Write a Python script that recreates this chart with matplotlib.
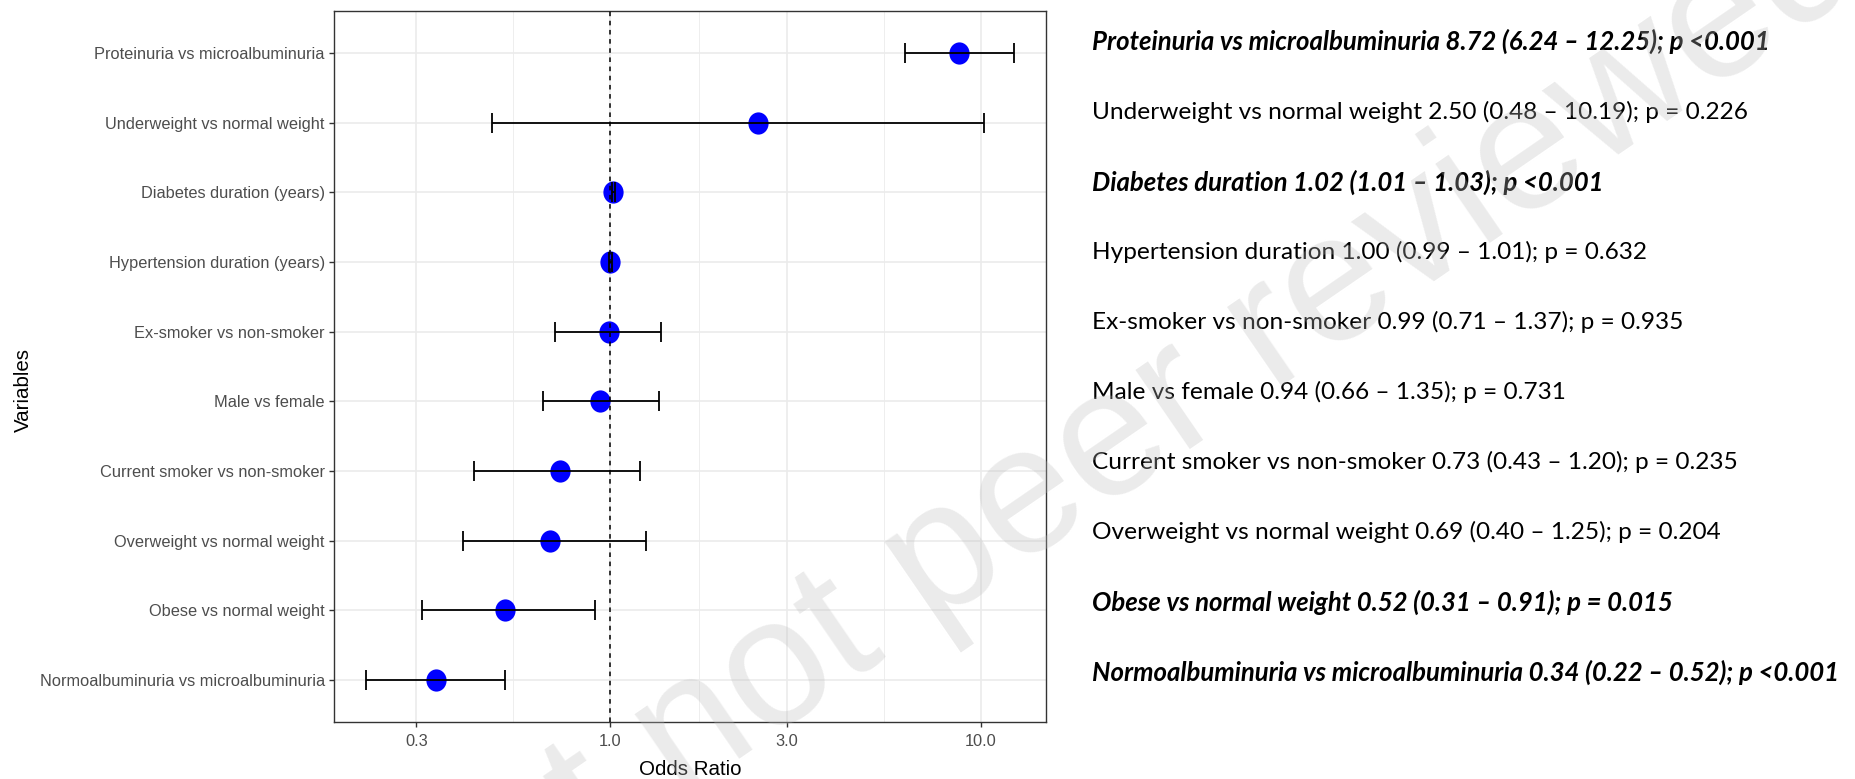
import numpy as np
import matplotlib.pyplot as plt
from matplotlib.ticker import NullFormatter
from matplotlib.path import Path
from matplotlib.transforms import Affine2D

# odds ratios with 95% CI, listed top to bottom
variables = ["Proteinuria vs microalbuminuria", "Underweight vs normal weight",
             "Diabetes duration (years)", "Hypertension duration (years)",
             "Ex-smoker vs non-smoker", "Male vs female",
             "Current smoker vs non-smoker", "Overweight vs normal weight",
             "Obese vs normal weight", "Normoalbuminuria vs microalbuminuria"]
short_names = ["Proteinuria vs microalbuminuria", "Underweight vs normal weight",
               "Diabetes duration", "Hypertension duration",
               "Ex-smoker vs non-smoker", "Male vs female",
               "Current smoker vs non-smoker", "Overweight vs normal weight",
               "Obese vs normal weight", "Normoalbuminuria vs microalbuminuria"]
odds = [8.72, 2.50, 1.02, 1.00, 0.99, 0.94, 0.73, 0.69, 0.52, 0.34]
lower = [6.24, 0.48, 1.01, 0.99, 0.71, 0.66, 0.43, 0.40, 0.31, 0.22]
upper = [12.25, 10.19, 1.03, 1.01, 1.37, 1.35, 1.20, 1.25, 0.91, 0.52]
pvals = ["p <0.001", "p = 0.226", "p <0.001", "p = 0.632", "p = 0.935",
         "p = 0.731", "p = 0.235", "p = 0.204", "p = 0.015", "p <0.001"]
significant = [True, False, True, False, False, False, False, False, True, True]

xbreaks = [0.3, 1.0, 3.0, 10.0]
xbreak_labels = ["0.3", "1.0", "3.0", "10.0"]

W, H = 1856, 779
fig = plt.figure(figsize=(W / 100, H / 100), dpi=100)
ax = fig.add_axes([334 / W, 1 - 722 / H, (1046 - 334) / W, (722 - 11) / H])

n = len(variables)
ypos = np.arange(n, 0, -1)
odds_a = np.array(odds)
lo_a = np.array(lower)
hi_a = np.array(upper)

# slightly tall dot marker
dot = Path.unit_circle().transformed(Affine2D().scale(0.91, 1.0))
ax.scatter(odds_a, ypos, s=16 ** 2, marker=dot, color="#0000FF", zorder=3,
           linewidths=0)
ax.errorbar(odds_a, ypos, xerr=[odds_a - lo_a, hi_a - odds_a], fmt="none",
            ecolor="black", elinewidth=1.3, capsize=7.5, capthick=1.3, zorder=4)
ax.axvline(1.0, color="black", lw=1.1, dashes=(3.0, 3.0), zorder=5)

ax.set_xscale("log")
llo, lhi = np.log10(min(lower)), np.log10(max(upper))
pad = 0.05 * (lhi - llo)
ax.set_xlim(10 ** (llo - pad), 10 ** (lhi + pad))
ax.set_ylim(0.4, n + 0.6)

lb = np.log10(xbreaks)
minor = 10 ** ((lb[:-1] + lb[1:]) / 2)
ax.set_xticks(xbreaks)
ax.set_xticklabels(xbreak_labels)
ax.set_xticks(minor, minor=True)
ax.xaxis.set_minor_formatter(NullFormatter())
ax.set_yticks(ypos)
ax.set_yticklabels(variables)

ax.grid(True, which="major", color="#EBEBEB", lw=1.2, zorder=0)
ax.grid(True, which="minor", axis="x", color="#EBEBEB", lw=0.6, zorder=0)
ax.set_axisbelow(True)

for s in ax.spines.values():
    s.set_color("#333333")
    s.set_linewidth(1.0)

ax.tick_params(which="major", length=3.6, width=1.0, color="#333333",
               labelcolor="#4D4D4D", labelsize=11.8, pad=3)
ax.tick_params(axis="x", pad=5)
ax.tick_params(which="minor", length=0)
for lab in ax.get_xticklabels() + ax.get_yticklabels():
    lab.set_family("Liberation Sans")

ax.set_xlabel("Odds Ratio", fontsize=14.8, family="Liberation Sans", labelpad=8)
ax.set_ylabel("Variables", fontsize=14.8, family="Liberation Sans")
ax.yaxis.set_label_coords(33 / W, 0.5, transform=fig.transFigure)

# summary text column to the right of the panel
for i in range(n):
    txt = f"{short_names[i]} {odds[i]:.2f} ({lower[i]:.2f} \u2013 {upper[i]:.2f}); {pvals[i]}"
    if significant[i]:
        style = dict(weight="bold", style="italic", fontsize=18.5)
    else:
        style = dict(fontsize=17.6)
    fig.text(1092 / W, 1 - (41.7 + 70.1 * i) / H, txt, ha="left", va="center",
             family="Lato", color="black", **style)

# preprint watermark
fig.text(112 / W, 1 - 1190 / H, "Preprint not peer reviewed", rotation=34.5,
         rotation_mode="anchor", ha="left", va="baseline", fontsize=131,
         family="Liberation Sans", color="#BDBDBD", alpha=0.3, zorder=10)

fig.savefig("out.png", dpi=100)
